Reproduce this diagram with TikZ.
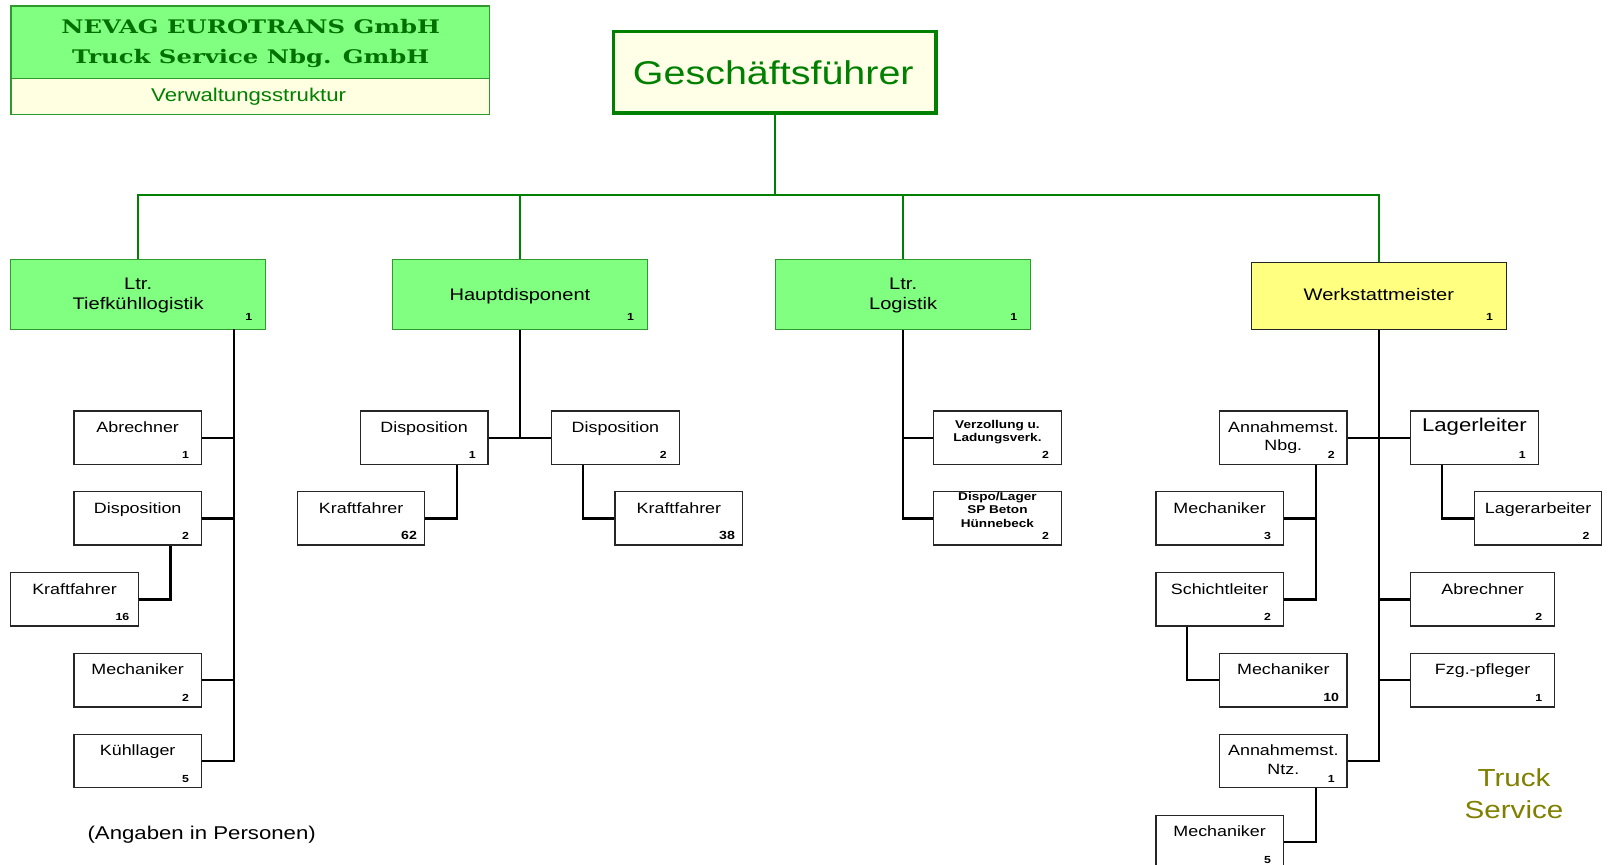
\documentclass[tikz,border=0pt]{standalone}
\usepackage{fontspec}
\setmainfont{Liberation Sans}[FakeStretch=1.2]
\newfontfamily\hdrfont{DejaVu Serif}[FakeStretch=1.3]
\usetikzlibrary{calc}
\definecolor{lgreen}{HTML}{80FF80}
\definecolor{bgreen}{HTML}{2E9A2E}
\definecolor{ggreen}{HTML}{008000}
\definecolor{hgreen}{HTML}{007000}
\definecolor{cream}{HTML}{FFFFE2}
\definecolor{cream2}{HTML}{FFFFE8}
\definecolor{lyellow}{HTML}{FFFF80}
\definecolor{olivetxt}{HTML}{808000}
\tikzset{
  pbox/.style={draw=black!85, line width=1.2pt, fill=white, minimum height=52pt, inner sep=0pt},
  topbox/.style={draw=bgreen, line width=1.2pt, fill=lgreen, inner sep=0pt},
  lab/.style={anchor=base, inner sep=0pt, font=\fontsize{14.5}{18}\selectfont},
  toplab/.style={anchor=base, inner sep=0pt, font=\fontsize{16.3}{19.5}\selectfont},
  num/.style={anchor=base, inner sep=0pt, font=\bfseries\fontsize{10}{12}\selectfont},
  bignum/.style={anchor=base, inner sep=0pt, font=\bfseries\fontsize{11.5}{12}\selectfont},
  gline/.style={draw=ggreen, line width=2pt},
  bline/.style={draw=black, line width=2.3pt},
  hdrtxt/.style={anchor=base, inner sep=0pt, text=hgreen, font=\hdrfont\bfseries\fontsize{18.2}{20}\selectfont},
}
% name, left, right, top, label, number, number style
\newcommand\obox[7]{%
  \node[pbox, minimum width={#3pt-#2pt}] (#1) at ({(#2+#3)/2},{#4+26}) {};
  \node[lab] at ($(#1.north)+(0,21.5)$) {\begin{tabular}[t]{@{}c@{}}#5\end{tabular}};
  \node[#7] at ($(#1.south east)+(-16,-6)$) {#6};}
\begin{document}
\begin{tikzpicture}[x=1pt,y=-1pt]
\useasboundingbox (0,0) rectangle (1565,841);
\begin{scope}
\clip (0,0) rectangle (1565,841);

% header
\node[draw=bgreen, fill=lgreen, line width=1.2pt, inner sep=0pt,
      minimum width=465.5pt, minimum height=70.4pt] (hdr) at (243.45,41) {};
\node[draw=bgreen, fill=cream, line width=1.2pt, inner sep=0pt,
      minimum width=465.5pt, minimum height=35.1pt] (sub) at (243.45,93.75) {};
\node[hdrtxt] at (244,32.6) {NEVAG EUROTRANS GmbH};
\node[hdrtxt] at (244,61.8) {Truck Service Nbg. GmbH};
\node[anchor=base, inner sep=0pt, text=ggreen, font=\fontsize{18}{20}\selectfont]
  at (242,99) {Verwaltungsstruktur};

% Geschaeftsfuehrer
\node[draw=ggreen, line width=3.5pt, fill=cream2, inner sep=0pt,
      minimum width=314pt, minimum height=79pt] (gf) at (754,70.25) {};
\node[anchor=base, inner sep=0pt, text=ggreen, font=\fontsize{32}{36}\selectfont]
  at (752.6,82.7) {Geschäftsführer};

% level 1
\node[topbox, minimum width=248pt, minimum height=68.1pt] (tief) at (134.5,286.45) {};
\node[toplab] at (134.5,282.2) {\begin{tabular}[t]{@{}c@{}}Ltr.\\Tiefkühllogistik\end{tabular}};
\node[num] at ($(tief.south east)+(-17,-9)$) {1};

\node[topbox, minimum width=248pt, minimum height=68.1pt] (haupt) at (506,286.45) {};
\node[toplab] at (506,292) {Hauptdisponent};
\node[num] at ($(haupt.south east)+(-17,-9)$) {1};

\node[topbox, minimum width=248pt, minimum height=68.1pt] (logi) at (879,286.45) {};
\node[toplab] at (879,282.2) {\begin{tabular}[t]{@{}c@{}}Ltr.\\Logistik\end{tabular}};
\node[num] at ($(logi.south east)+(-17,-9)$) {1};

\node[draw=black!85, line width=1.2pt, fill=lyellow, inner sep=0pt,
      minimum width=248pt, minimum height=64.8pt] (werk) at (1342,288.1) {};
\node[toplab] at (1342,292) {Werkstattmeister};
\node[num] at ($(werk.south east)+(-17,-9)$) {1};

% green connectors
\coordinate (bus) at (754,189.5);
\draw[gline] (gf.south) -- (bus);
\draw[gline] (tief.north) -- (tief.north |- bus) -- (werk.north |- bus) -- (werk.north);
\draw[gline] (haupt.north) -- (haupt.north |- bus);
\draw[gline] (logi.north) -- (logi.north |- bus);

% level 2 boxes
% Tiefkuehllogistik
\obox{abrT}{72}{196}{400}{Abrechner}{1}{num}
\obox{disT}{72}{196}{478.5}{Disposition}{2}{num}
\obox{kf16}{10.5}{134.5}{557.3}{Kraftfahrer}{16}{num}
\obox{mechT}{72}{196}{636}{Mechaniker}{2}{num}
\obox{kuehl}{72}{196}{714.5}{Kühllager}{5}{num}
% Hauptdisponent
\obox{dis1}{350.5}{475}{400}{Disposition}{1}{num}
\obox{dis2}{537}{661}{400}{Disposition}{2}{num}
\obox{kf62}{289.5}{413.5}{478.5}{Kraftfahrer}{62}{bignum}
\obox{kf38}{598.5}{723}{478.5}{Kraftfahrer}{38}{bignum}
% Logistik
\node[pbox, minimum width=124.5pt] (verz) at (970.75,426) {};
\node[anchor=base, inner sep=0pt, font=\bfseries\fontsize{11}{12}\selectfont]
  at ($(verz.north)+(0,17.8)$) {\begin{tabular}[t]{@{}c@{}}Verzollung u.\\Ladungsverk.\end{tabular}};
\node[num] at ($(verz.south east)+(-16,-6)$) {2};
\node[pbox, minimum width=124.5pt] (displ) at (970.75,504.5) {};
\node[anchor=base, inner sep=0pt, font=\bfseries\fontsize{11}{13}\selectfont]
  at ($(displ.north)+(0,9.1)$) {\begin{tabular}[t]{@{}c@{}}Dispo/Lager\\SP Beton\\Hünnebeck\end{tabular}};
\node[num] at ($(displ.south east)+(-16,-6)$) {2};
% Werkstatt
\obox{annB}{1187}{1311}{400}{Annahmemst.\\Nbg.}{2}{num}
\node[pbox, minimum width=124pt] (lagl) at (1435,426) {};
\node[anchor=base, inner sep=0pt, font=\fontsize{18}{20}\selectfont] at ($(lagl.north)+(0,21)$) {Lagerleiter};
\node[num] at ($(lagl.south east)+(-16,-6)$) {1};
\obox{mech3}{1125}{1249}{478.5}{Mechaniker}{3}{num}
\obox{laga}{1435}{1559}{478.5}{Lagerarbeiter}{2}{num}
\obox{schicht}{1125}{1249}{557.3}{Schichtleiter}{2}{num}
\obox{abrW}{1373}{1513}{557.3}{Abrechner}{2}{num}
\obox{mech10}{1187}{1311}{636}{Mechaniker}{10}{bignum}
\obox{fzg}{1373}{1513}{636}{Fzg.-pfleger}{1}{num}
\obox{annN}{1187}{1311}{714.5}{Annahmemst.\\Ntz.}{1}{num}
\obox{mech5}{1125}{1249}{793.5}{Mechaniker}{5}{num}

% black connectors
\coordinate (tv) at (227.5,320.5);
\draw[bline] (tv) |- (kuehl.east);
\draw[bline] (abrT.east) -- (abrT.east -| tv);
\draw[bline] (disT.east) -- (disT.east -| tv);
\draw[bline] (mechT.east) -- (mechT.east -| tv);
\draw[bline] ($(disT.south east)+(-30.5,0)$) |- (kf16.east);

\draw[bline] (haupt.south) -- (haupt.south |- dis1.east);
\draw[bline] (dis1.east) -- (dis2.west);
\draw[bline] ($(dis1.south east)+(-31,0)$) |- (kf62.east);
\draw[bline] ($(dis2.south west)+(31,0)$) |- (kf38.west);

\draw[bline] (logi.south) |- (displ.west);
\draw[bline] (verz.west) -- (verz.west -| logi.south);

\draw[bline] (werk.south) |- (annN.east);
\draw[bline] (annB.east) -- (lagl.west);
\draw[bline] (abrW.west) -- (abrW.west -| werk.south);
\draw[bline] (fzg.west) -- (fzg.west -| werk.south);
\coordinate (aB) at ($(annB.south east)+(-31,0)$);
\draw[bline] (aB) |- (schicht.east);
\draw[bline] (mech3.east) -- (mech3.east -| aB);
\draw[bline] ($(lagl.south west)+(31,0)$) |- (laga.west);
\draw[bline] ($(schicht.south west)+(31,0)$) |- (mech10.west);
\draw[bline] ($(annN.south east)+(-31,0)$) |- (mech5.east);

% free texts
\node[anchor=base, inner sep=0pt, text=olivetxt, font=\fontsize{24}{31.4}\selectfont]
  at (1473.5,765) {\begin{tabular}[t]{@{}c@{}}Truck\\Service\end{tabular}};
\node[anchor=base, inner sep=0pt, font=\fontsize{18}{22}\selectfont]
  at (196.3,816.9) {(Angaben in Personen)};
\end{scope}
\end{tikzpicture}
\end{document}
